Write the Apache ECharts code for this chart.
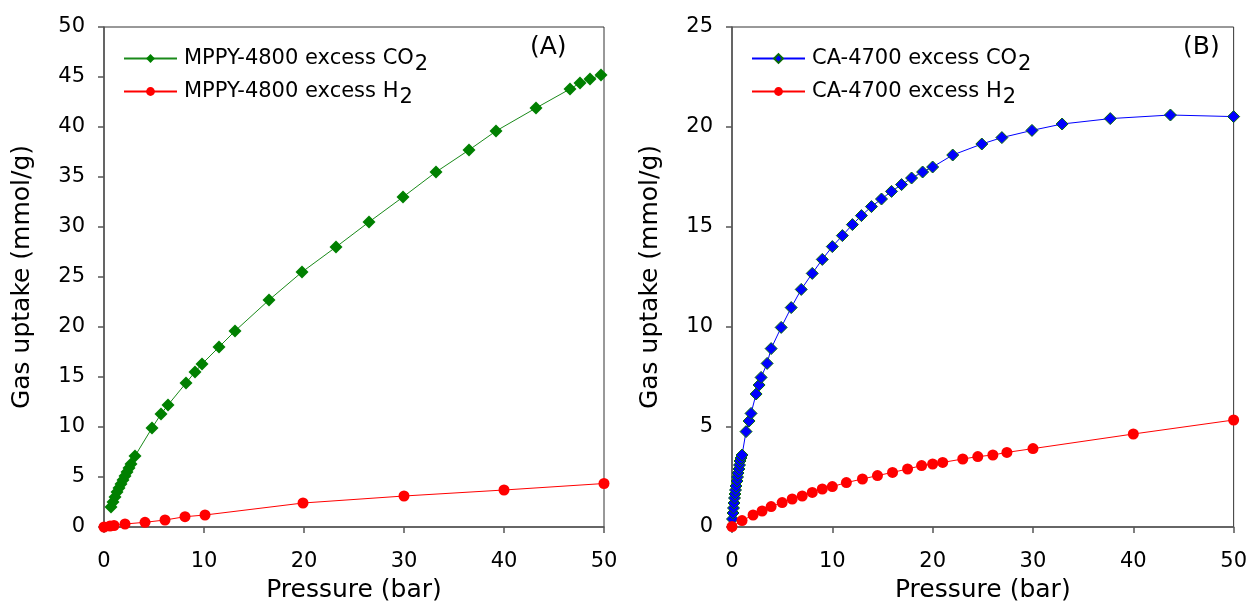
<!DOCTYPE html>
<html>
<head>
<meta charset="utf-8">
<script src="https://cdn.jsdelivr.net/npm/echarts@6/dist/echarts.min.js"></script>
<style>html,body{margin:0;padding:0;background:#fff}#c{width:1250px;height:608px}</style>
</head>
<body>
<div id="c"></div>
<script>
// Panel A: MPPY-4800
const mppyCO2P = [0.7,0.9,1.1,1.3,1.5,1.7,1.9,2.1,2.3,2.5,2.7,3.1,4.8,5.7,6.4,8.2,9.1,9.8,11.5,13.1,16.5,19.8,23.2,26.5,29.9,33.2,36.5,39.2,43.2,46.6,47.6,48.6,49.7];
const mppyCO2V = [2.0,2.5,3.0,3.5,3.9,4.3,4.7,5.1,5.5,5.9,6.3,7.1,9.9,11.3,12.2,14.4,15.5,16.3,18.0,19.6,22.7,25.5,28.0,30.5,33.0,35.5,37.7,39.6,41.9,43.8,44.4,44.8,45.2];
const mppyH2P = [0.0,0.6,1.0,2.1,4.1,6.1,8.1,10.1,19.9,30.0,40.0,50.0];
const mppyH2V = [0.0,0.1,0.15,0.3,0.47,0.7,1.03,1.2,2.4,3.1,3.7,4.35];
// Panel B: CA-4700
const caCO2P = [0.05,0.1,0.15,0.2,0.25,0.3,0.35,0.4,0.5,0.55,0.6,0.7,0.75,0.8,0.9,1.0,1.4,1.7,1.9,2.4,2.7,2.9,3.5,3.9,4.9,5.9,6.9,8.0,9.0,10.0,11.0,12.0,12.9,13.9,14.9,15.9,16.9,17.9,19.0,20.0,22.0,24.9,26.9,29.9,32.9,37.7,43.7,50.0];
const caCO2V = [0.4,0.7,0.95,1.2,1.45,1.65,1.85,2.05,2.3,2.5,2.7,2.9,3.1,3.3,3.45,3.6,4.77,5.3,5.68,6.65,7.1,7.48,8.18,8.92,9.98,10.97,11.88,12.68,13.38,14.02,14.57,15.12,15.57,16.02,16.4,16.78,17.12,17.45,17.75,18.0,18.6,19.15,19.47,19.83,20.15,20.42,20.6,20.52];
const caH2P = [0.0,1.0,2.1,3.0,3.9,5.0,6.0,7.0,8.0,9.0,10.0,11.4,13.0,14.5,16.0,17.5,18.9,20.0,21.0,23.0,24.5,26.0,27.4,30.0,40.0,50.0];
const caH2V = [0.02,0.32,0.6,0.8,1.02,1.22,1.4,1.55,1.73,1.9,2.02,2.22,2.4,2.57,2.73,2.9,3.07,3.15,3.23,3.4,3.52,3.6,3.73,3.92,4.65,5.35];

const yMaxA = 50, yStepA = 5, yMaxB = 25, yStepB = 5;

const zip = (a,b) => a.map((v,i)=>[v,b[i]]);
const FONT = 'DejaVu Sans, sans-serif';

function xAxis(gi){
  return {gridIndex:gi,type:'value',min:0,max:50,interval:10,
    name:'Pressure (bar)',nameLocation:'middle',nameGap:51,
    nameTextStyle:{fontFamily:FONT,fontSize:25,color:'#000'},
    axisLine:{onZero:false,lineStyle:{color:'#555',width:1.5}},
    axisTick:{show:true,inside:false,length:6,lineStyle:{color:'#555',width:1.5}},
    axisLabel:{fontFamily:FONT,fontSize:21,color:'#000',margin:24},
    splitLine:{show:false}};
}
function yAxis(gi,max,step){
  return {gridIndex:gi,type:'value',min:0,max:max,interval:step,
    name:'Gas uptake (mmol/g)',nameLocation:'middle',nameGap:69,nameRotate:90,
    nameTextStyle:{fontFamily:FONT,fontSize:25,color:'#000'},
    axisLine:{onZero:false,lineStyle:{color:'#555',width:1.5}},
    axisTick:{show:true,inside:false,length:6,lineStyle:{color:'#555',width:1.5}},
    axisLabel:{fontFamily:FONT,fontSize:21,color:'#000',margin:19},
    splitLine:{show:false}};
}
const legendBase = {orient:'vertical',itemWidth:53,itemHeight:11,itemGap:6,
  textStyle:{fontFamily:FONT,fontSize:21,color:'#000',padding:[0,0,0,2],
    rich:{s:{fontFamily:FONT,fontSize:21,color:'#000',padding:[12,0,0,1]}}},
  formatter:n=>n.slice(0,-1)+'{s|2}'};

const option = {
  animation:false,
  backgroundColor:'#fff',
  grid:[
    {left:104,top:27,width:500,height:500,show:true,borderColor:'#333',borderWidth:1,backgroundColor:'transparent'},
    {left:732,top:27,width:502,height:500,show:true,borderColor:'#333',borderWidth:1,backgroundColor:'transparent'}
  ],
  xAxis:[xAxis(0),xAxis(1)],
  yAxis:[yAxis(0,yMaxA,yStepA),yAxis(1,yMaxB,yStepB)],
  legend:[
    Object.assign({},legendBase,{left:118,top:43,data:['MPPY-4800 excess CO2','MPPY-4800 excess H2']}),
    Object.assign({},legendBase,{left:746,top:43,data:['CA-4700 excess CO2','CA-4700 excess H2']})
  ],
  graphic:[
    {type:'text',left:530,top:35,style:{text:'(A)',font:'25px '+FONT,fill:'#000'}},
    {type:'text',left:1183,top:35,style:{text:'(B)',font:'25px '+FONT,fill:'#000'}}
  ],
  series:[
    {name:'MPPY-4800 excess CO2',type:'line',xAxisIndex:0,yAxisIndex:0,data:zip(mppyCO2P,mppyCO2V),
      symbol:'diamond',symbolSize:13,itemStyle:{color:'#008000'},lineStyle:{color:'#1a8a1a',width:1}},
    {name:'MPPY-4800 excess H2',type:'line',xAxisIndex:0,yAxisIndex:0,data:zip(mppyH2P,mppyH2V),
      symbol:'circle',symbolSize:11,itemStyle:{color:'#ff0000'},lineStyle:{color:'#ff0000',width:1}},
    {name:'CA-4700 excess CO2',type:'line',xAxisIndex:1,yAxisIndex:1,data:zip(caCO2P,caCO2V),
      symbol:'diamond',symbolSize:12,itemStyle:{color:'#0000ff',borderColor:'#0a6a0a',borderWidth:1},lineStyle:{color:'#0000ff',width:1}},
    {name:'CA-4700 excess H2',type:'line',xAxisIndex:1,yAxisIndex:1,data:zip(caH2P,caH2V),
      symbol:'circle',symbolSize:11,itemStyle:{color:'#ff0000'},lineStyle:{color:'#ff0000',width:1}}
  ]
};
const chart = echarts.init(document.getElementById('c'),null,{renderer:'canvas'});
chart.setOption(option);
</script>
</body>
</html>
